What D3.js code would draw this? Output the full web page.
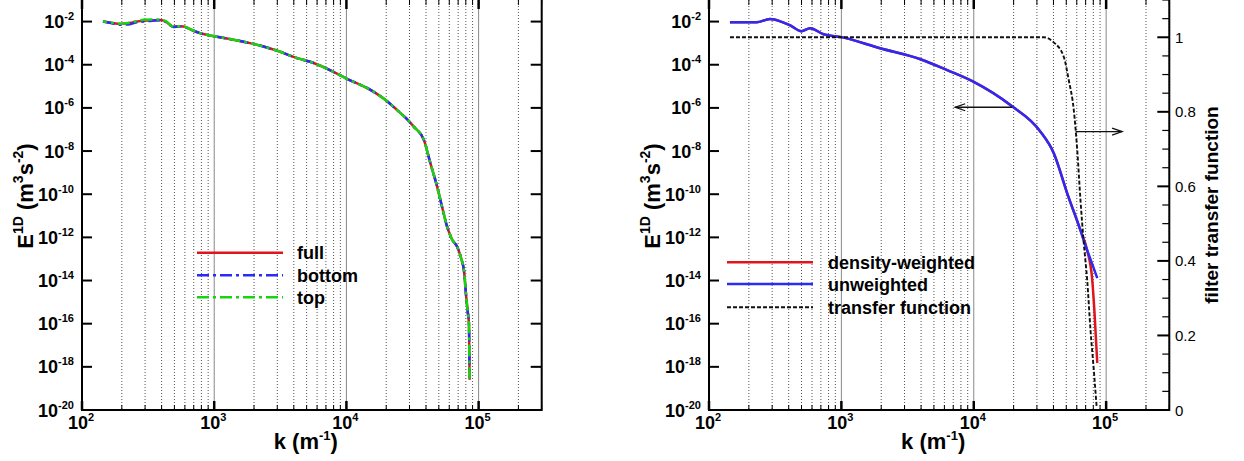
<!DOCTYPE html>
<meta charset="utf-8">
<style type="text/css">
    body { margin: 0; background: #fff; }
    svg text { font-family: "Liberation Sans", Arial, Helvetica, sans-serif; fill: #000; }
    .grid-minor { stroke: #555; stroke-width: 1; stroke-dasharray: 1,2; }
    .grid-major { stroke: #888; stroke-width: 1; }
    .frame { stroke: #000; stroke-width: 2; fill: none; }
    .tick { stroke: #000; }
    .tlabel { font-size: 18px; font-weight: bold; }
    .rlabel { font-size: 15px; }
    .title { font-weight: bold; }
    .legend { font-size: 18px; font-weight: bold; }
    .curve { fill: none; stroke-width: 2.5; stroke-linejoin: round; }
</style>
<body></body>
<script src="https://d3js.org/d3.v7.min.js"></script>
<script>

    // ---- left panel: E1D spectra of full / bottom / top ----
    var kLeft = [144, 165, 194, 230, 260, 290, 340, 390, 430, 490, 540, 585, 680, 780, 1000, 1400, 1870, 2500,
        3160, 3970, 5650, 7500, 10000, 15200, 20000, 24200, 28000, 32300, 38600, 43200, 48600, 53000, 57800,
        59600, 63000, 68900, 74000, 77400, 80600, 82500, 84500, 85500];
    var fullE = [1.0e-2, 8.9e-3, 7.8e-3, 8.5e-3, 1.0e-2, 1.1e-2, 1.12e-2, 1.17e-2, 1.0e-2, 5.8e-3, 6.0e-3, 5.9e-3,
        4.0e-3, 2.9e-3, 2.1e-3, 1.45e-3, 1.0e-3, 6.3e-4, 4.0e-4, 2.3e-4, 1.2e-4, 5.6e-5, 2.3e-5, 6.8e-6, 2.2e-6,
        7.9e-7, 3.5e-7, 1.35e-7, 3.2e-8, 2.7e-9, 2.2e-10, 2.5e-11, 3.1e-12, 1.8e-12, 8e-13, 3.6e-13, 1.0e-13,
        3.0e-14, 1.7e-15, 4.0e-16, 1.0e-16, 2.5e-19];
    var bottomE = [1.0e-2, 8.6e-3, 7.2e-3, 7.6e-3, 9.4e-3, 1.0e-2, 1.1e-2, 1.15e-2, 9.8e-3, 5.6e-3, 6.0e-3, 5.8e-3,
        4.0e-3, 2.9e-3, 2.1e-3, 1.45e-3, 1.0e-3, 6.3e-4, 4.0e-4, 2.3e-4, 1.2e-4, 5.6e-5, 2.3e-5, 6.8e-6, 2.2e-6,
        7.9e-7, 3.5e-7, 1.35e-7, 3.2e-8, 2.7e-9, 2.2e-10, 2.5e-11, 3.1e-12, 1.8e-12, 8e-13, 3.6e-13, 1.0e-13,
        3.0e-14, 1.7e-15, 4.0e-16, 1.0e-16, 3.0e-19];
    var topE = [1.0e-2, 9.0e-3, 8.0e-3, 8.8e-3, 1.05e-2, 1.2e-2, 1.25e-2, 1.25e-2, 1.05e-2, 5.9e-3, 6.1e-3, 6.0e-3,
        4.1e-3, 2.9e-3, 2.1e-3, 1.45e-3, 1.0e-3, 6.3e-4, 4.0e-4, 2.3e-4, 1.2e-4, 5.6e-5, 2.3e-5, 6.8e-6, 2.2e-6,
        7.9e-7, 3.5e-7, 1.35e-7, 3.2e-8, 2.7e-9, 2.2e-10, 2.5e-11, 3.1e-12, 1.8e-12, 8e-13, 3.6e-13, 1.0e-13,
        3.0e-14, 1.7e-15, 4.0e-16, 1.0e-16, 2.8e-19];

    // ---- right panel: density-weighted vs unweighted + filter ----
    var kDensity = [144, 229, 289, 350, 407, 500, 580, 733, 1000, 1960, 3960, 6300, 10000, 18900, 31900, 40300,
        50800, 64000, 71900, 78500, 81700, 85700];
    var densityE = [9.3e-3, 9.3e-3, 1.3e-2, 1.0e-2, 6.9e-3, 3.6e-3, 4.9e-3, 2.6e-3, 1.9e-3, 5.8e-4, 1.8e-4,
        5.6e-5, 1.6e-5, 1.35e-6, 7.9e-8, 7.8e-9, 1.1e-10, 2.1e-12, 2.5e-13, 1.1e-14, 3.2e-16, 1.5e-18];
    var kUnweighted = [144, 229, 289, 350, 407, 500, 580, 733, 1000, 1960, 3960, 6300, 10000, 18900, 31900, 40300,
        50800, 64000, 67600, 76000, 85700];
    var unweightedE = [9.3e-3, 9.3e-3, 1.3e-2, 1.0e-2, 6.9e-3, 3.6e-3, 4.9e-3, 2.6e-3, 1.9e-3, 5.8e-4, 1.8e-4,
        5.6e-5, 1.6e-5, 1.35e-6, 7.9e-8, 7.8e-9, 1.1e-10, 2.1e-12, 7.4e-13, 1.0e-13, 1.3e-14];
    var kFilter = [144, 5000, 20000, 33700, 40000, 47900, 52200, 57000, 60500, 64000, 67800, 71900, 76200, 80700, 84700];
    var filterT = [1, 1, 1, 1, 0.987, 0.947, 0.885, 0.804, 0.697, 0.563, 0.447, 0.349, 0.214, 0.107, 0.01];

    // arrows: [k start, k end, value]
    var arrowSpectrum = [19500, 7240, 1.07e-6];
    var arrowFilter = [58700, 132000, 0.747];

    // tick labels
    var xTickExp = [2, 3, 4, 5];
    var yTickExp = [-2, -4, -6, -8, -10, -12, -14, -16, -18, -20];
    var filterTicks = [0, 0.2, 0.4, 0.6, 0.8, 1];

    var svg = d3.select("body").append("svg")
        .attr("width", 1244)
        .attr("height", 461);

    var plotTop = 0, plotBottom = 410;

    var yScale = d3.scaleLog()
        .domain([1e-20, 1e-1])
        .range([plotBottom, plotTop]);

    function minorKs() {
        var out = [];
        [100, 1000, 10000, 100000].forEach(function(dec) {
            for (var m = 1; m <= 9; m++) {
                var v = dec * m;
                if (v <= 3e5) out.push(v);
            }
        });
        return out;
    }

    function drawPanel(x0, x1, hasRightLogAxis) {
        var xScale = d3.scaleLog().domain([100, 3e5]).range([x0, x1]);
        var g = svg.append("g");

        // vertical grid
        minorKs().forEach(function(k) {
            if (k === 100) return;
            var isDecade = Math.abs(Math.log10(k) - Math.round(Math.log10(k))) < 1e-9;
            g.append("line")
                .attr("class", isDecade ? "grid-major" : "grid-minor")
                .attr("x1", xScale(k)).attr("x2", xScale(k))
                .attr("y1", plotTop).attr("y2", plotBottom);
        });

        // x ticks on bottom and top
        minorKs().forEach(function(k) {
            var isDecade = Math.abs(Math.log10(k) - Math.round(Math.log10(k))) < 1e-9;
            var len = isDecade ? 9 : 5;
            var w = isDecade ? 2.5 : 1;
            g.append("line").attr("class", "tick").attr("stroke-width", w)
                .attr("x1", xScale(k)).attr("x2", xScale(k))
                .attr("y1", plotBottom).attr("y2", plotBottom - len);
            g.append("line").attr("class", "tick").attr("stroke-width", w)
                .attr("x1", xScale(k)).attr("x2", xScale(k))
                .attr("y1", plotTop).attr("y2", plotTop + len);
        });

        // y ticks left (and right for the left panel)
        yTickExp.forEach(function(e) {
            var y = yScale(Math.pow(10, e));
            g.append("line").attr("class", "tick").attr("stroke-width", 2)
                .attr("x1", x0).attr("x2", x0 + 10).attr("y1", y).attr("y2", y);
            if (hasRightLogAxis) {
                g.append("line").attr("class", "tick").attr("stroke-width", 2)
                    .attr("x1", x1).attr("x2", x1 - 11).attr("y1", y).attr("y2", y);
            }
            var t = g.append("text").attr("class", "tlabel")
                .attr("x", x0 - 8).attr("y", y + 6.5)
                .attr("text-anchor", "end")
                .text("10");
            t.append("tspan").attr("dy", -8).attr("font-size", 11).text(e);
        });

        xTickExp.forEach(function(e) {
            var x = xScale(Math.pow(10, e));
            var t = g.append("text").attr("class", "tlabel")
                .attr("x", x - 1).attr("y", 428.5)
                .attr("text-anchor", "middle")
                .text("10");
            t.append("tspan").attr("dy", -8).attr("font-size", 11).text(e);
        });

        // frame: left, bottom, right
        g.append("path").attr("class", "frame")
            .attr("d", "M" + x0 + "," + plotTop + "L" + x0 + "," + plotBottom + "L" + x1 + "," + plotBottom + "L" + x1 + "," + plotTop);

        // axis titles
        var xt = g.append("text").attr("class", "title")
            .attr("font-size", 22)
            .attr("x", (x0 + x1) / 2 - 6).attr("y", 449)
            .attr("text-anchor", "middle")
            .text("k (m");
        xt.append("tspan").attr("dy", -9).attr("font-size", 13).text("-1");
        xt.append("tspan").attr("dy", 9).text(")");

        var yt = g.append("text").attr("class", "title")
            .attr("font-size", 22)
            .attr("text-anchor", "middle")
            .attr("transform", "translate(" + (x0 - 49) + ",196) rotate(-90)")
            .text("E");
        yt.append("tspan").attr("dy", -10).attr("font-size", 14).text("1D");
        yt.append("tspan").attr("dy", 10).text(" (m");
        yt.append("tspan").attr("dy", -10).attr("font-size", 14).text("3");
        yt.append("tspan").attr("dy", 10).text("s");
        yt.append("tspan").attr("dy", -10).attr("font-size", 14).text("-2");
        yt.append("tspan").attr("dy", 10).text(")");

        return {g: g, x: xScale};
    }

    function eLine(xScale, ks) {
        return d3.line()
            .x(function(d, i) { return xScale(ks[i]); })
            .y(function(d) { return yScale(d); })
            .curve(d3.curveMonotoneX);
    }

    // ===== left panel =====
    var left = drawPanel(82, 541.7, true);

    left.g.append("path").datum(fullE).attr("class", "curve")
        .attr("stroke", "#e0141b").attr("d", eLine(left.x, kLeft));
    left.g.append("path").datum(bottomE).attr("class", "curve")
        .attr("stroke", "#2a2cf5").attr("stroke-dasharray", "12,4,3,4").attr("d", eLine(left.x, kLeft));
    left.g.append("path").datum(topE).attr("class", "curve")
        .attr("stroke", "#17d40f").attr("stroke-dasharray", "12,4,3,4").attr("stroke-dashoffset", 8).attr("d", eLine(left.x, kLeft));

    var legL = [
        {name: "full", color: "#e0141b", dash: null, y: 252.7},
        {name: "bottom", color: "#2a2cf5", dash: "12,4,3,4", y: 275.3},
        {name: "top", color: "#17d40f", dash: "12,4,3,4", y: 297.3}
    ];
    legL.forEach(function(d) {
        left.g.append("line").attr("x1", 197).attr("x2", 283).attr("y1", d.y).attr("y2", d.y)
            .attr("stroke", d.color).attr("stroke-width", 2.5).attr("stroke-dasharray", d.dash);
        left.g.append("text").attr("class", "legend").attr("x", 297).attr("y", d.y + 6.5).text(d.name);
    });

    // ===== right panel =====
    var right = drawPanel(709, 1169.3, false);

    var yFilter = d3.scaleLinear().domain([0, 1.1]).range([plotBottom, plotTop]);

    right.g.append("path").datum(densityE).attr("class", "curve")
        .attr("stroke", "#e0141b").attr("d", eLine(right.x, kDensity));
    right.g.append("path").datum(unweightedE).attr("class", "curve")
        .attr("stroke", "#2a2cf5").attr("d", eLine(right.x, kUnweighted));

    right.g.append("path").datum(filterT)
        .attr("fill", "none").attr("stroke", "#111").attr("stroke-width", 1.9)
        .attr("stroke-dasharray", "4,2")
        .attr("d", d3.line()
            .x(function(d, i) { return right.x(kFilter[i]); })
            .y(function(d) { return yFilter(d); })
            .curve(d3.curveMonotoneX));

    // right linear axis
    d3.range(0, 1.1001, 0.05).forEach(function(v) {
        var major = Math.abs(v / 0.2 - Math.round(v / 0.2)) < 1e-6;
        right.g.append("line").attr("class", "tick").attr("stroke-width", major ? 2 : 1.2)
            .attr("x1", 1169.3).attr("x2", 1169.3 - (major ? 12 : 7))
            .attr("y1", yFilter(v)).attr("y2", yFilter(v));
    });
    filterTicks.forEach(function(v) {
        right.g.append("text").attr("class", "rlabel")
            .attr("x", 1175).attr("y", yFilter(v) + 5.5)
            .text(v);
    });
    right.g.append("text").attr("class", "title")
        .attr("font-size", 19)
        .attr("text-anchor", "middle")
        .attr("transform", "translate(1218,205) rotate(-90)")
        .text("filter transfer function");

    // arrows pointing to each axis
    function arrow(xa, xb, y) {
        var dir = xb > xa ? 1 : -1;
        right.g.append("line").attr("x1", xa).attr("x2", xb).attr("y1", y).attr("y2", y)
            .attr("stroke", "#111").attr("stroke-width", 1.3);
        right.g.append("path").attr("fill", "none").attr("stroke", "#111").attr("stroke-width", 1.3)
            .attr("d", "M" + (xb - dir * 10) + "," + (y - 3.5) + "L" + xb + "," + y + "L" + (xb - dir * 10) + "," + (y + 3.5));
    }
    arrow(right.x(arrowSpectrum[0]), right.x(arrowSpectrum[1]), yScale(arrowSpectrum[2]));
    arrow(right.x(arrowFilter[0]), right.x(arrowFilter[1]), yFilter(arrowFilter[2]));

    var legR = [
        {name: "density-weighted", color: "#e0141b", dash: null, w: 2.5, y: 262.3},
        {name: "unweighted", color: "#2a2cf5", dash: null, w: 2.5, y: 284},
        {name: "transfer function", color: "#111", dash: "4,2", w: 1.9, y: 307.3}
    ];
    legR.forEach(function(d) {
        right.g.append("line").attr("x1", 727).attr("x2", 813).attr("y1", d.y).attr("y2", d.y)
            .attr("stroke", d.color).attr("stroke-width", d.w).attr("stroke-dasharray", d.dash);
        right.g.append("text").attr("class", "legend").attr("x", 828).attr("y", d.y + 6.5).text(d.name);
    });

</script>
